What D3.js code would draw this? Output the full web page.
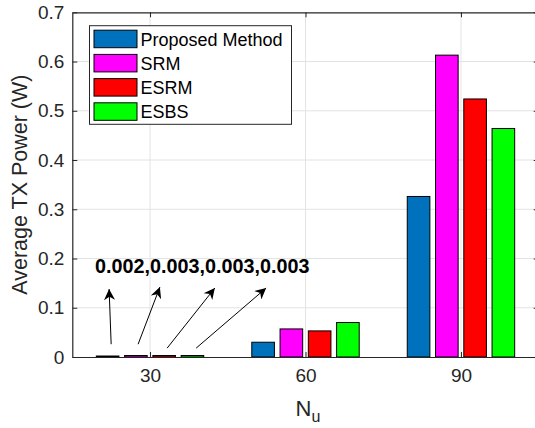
<!DOCTYPE html>
<html>
<head>
<meta charset="utf-8">
<script src="https://cdn.jsdelivr.net/npm/d3@7"></script>
<style>
  body { margin: 0; background: #fff; }
  svg { display: block; font-family: "Liberation Sans", Arial, sans-serif; }
</style>
</head>
<body>
<div id="chart"></div>
<script>
// data
var categories = [30, 60, 90];
var series = ["Proposed Method", "SRM", "ESRM", "ESBS"];
var colors = ["#0072BD", "#FF00FF", "#FF0000", "#00FF00"];
var proposed = [0.002, 0.030, 0.326];
var srm = [0.003, 0.057, 0.613];
var esrm = [0.003, 0.053, 0.524];
var esbs = [0.003, 0.070, 0.464];
var yTicks = [0, 0.1, 0.2, 0.3, 0.4, 0.5, 0.6, 0.7];
var noteText = "0.002,0.003,0.003,0.003";
// arrows in data units: [x tail, y tail, x head, y head]
var arrows = [
  [22.5, 0.026, 22.1, 0.138],
  [27.7, 0.026, 31.9, 0.142],
  [33.3, 0.018, 42.5, 0.140],
  [38.9, 0.018, 52.4, 0.140]
];

var width = 535, height = 428;
// plot box (right edge runs past the picture, as in the original)
var pLeft = 72.3, pTop = 12.3, pRight = 538.7, pBottom = 357;

var svg = d3.select("#chart").append("svg")
    .attr("width", width)
    .attr("height", height);

var x = d3.scaleLinear().domain([15, 105]).range([pLeft, pRight]);
var y = d3.scaleLinear().domain([0, 0.7]).range([pBottom, pTop]);

// grouped bar offsets, same proportions as matlab bar()
var groupW = (x(45) - x(15)) * 4 / 5.5;
var inner = d3.scaleBand().domain(series)
    .range([-groupW / 2, groupW / 2])
    .paddingInner(0.2).paddingOuter(0.1);

var axisColor = "#262626";
var gridColor = "#e3e3e3";

// grid
svg.append("g").selectAll("line")
    .data(yTicks.slice(1, -1))
  .enter().append("line")
    .attr("x1", pLeft).attr("x2", pRight)
    .attr("y1", function(d) { return y(d); })
    .attr("y2", function(d) { return y(d); })
    .attr("stroke", gridColor).attr("stroke-width", 1);
svg.append("g").selectAll("line")
    .data(categories)
  .enter().append("line")
    .attr("x1", function(d) { return x(d); })
    .attr("x2", function(d) { return x(d); })
    .attr("y1", pTop).attr("y2", pBottom)
    .attr("stroke", gridColor).attr("stroke-width", 1);

// bars
var table = [proposed, srm, esrm, esbs];
var rows = [];
series.forEach(function(s, i) {
  categories.forEach(function(c, j) {
    rows.push({ s: s, i: i, c: c, v: table[i][j] });
  });
});
svg.append("g").selectAll("rect")
    .data(rows)
  .enter().append("rect")
    .attr("x", function(d) { return x(d.c) + inner(d.s); })
    .attr("width", inner.bandwidth())
    .attr("y", function(d) { return y(d.v); })
    .attr("height", function(d) { return y(0) - y(d.v); })
    .attr("fill", function(d) { return colors[d.i]; })
    .attr("stroke", "#000").attr("stroke-width", 1);

// axes (box with inward ticks)
var yAxis = d3.axisLeft(y).tickValues(yTicks).tickSizeInner(-5).tickSizeOuter(0)
    .tickPadding(8).tickFormat(function(d) { return d === 0 ? "0" : d3.format(".1f")(d); });
var gy = svg.append("g").attr("transform", "translate(" + pLeft + ",0)").call(yAxis);
var gyr = svg.append("g").attr("transform", "translate(" + pRight + ",0)")
    .call(d3.axisRight(y).tickValues(yTicks).tickSizeInner(-5).tickSizeOuter(0).tickFormat(""));
var xAxis = d3.axisBottom(x).tickValues(categories).tickSizeInner(-5).tickSizeOuter(0).tickPadding(12);
var gx = svg.append("g").attr("transform", "translate(0," + pBottom + ")").call(xAxis);
var gxt = svg.append("g").attr("transform", "translate(0," + pTop + ")")
    .call(d3.axisTop(x).tickValues(categories).tickSizeInner(-5).tickSizeOuter(0).tickFormat(""));

[gy, gyr, gx, gxt].forEach(function(g) {
  g.selectAll("path.domain").attr("stroke", axisColor).attr("stroke-width", 1.2);
  g.selectAll("line").attr("stroke", axisColor);
  g.selectAll("text").attr("fill", axisColor).style("font-size", "19px");
});

// axis labels
svg.append("text")
    .attr("transform", "translate(27," + ((pTop + pBottom) / 2) + ")rotate(-90)")
    .attr("text-anchor", "middle")
    .attr("fill", axisColor)
    .style("font-size", "21.5px")
    .text("Average TX Power (W)");
var xl = svg.append("text")
    .attr("x", x(60) - 10).attr("y", 416)
    .attr("fill", axisColor)
    .style("font-size", "22px")
    .text("N");
xl.append("tspan").attr("dy", 6).style("font-size", "16px").text("u");

// annotation
svg.append("text")
    .attr("x", x(19.4)).attr("y", y(0.17))
    .style("font-size", "19.8px").style("font-weight", "bold")
    .attr("fill", "#000")
    .text(noteText);

svg.append("defs").append("marker")
    .attr("id", "head")
    .attr("viewBox", "0 0 10 10")
    .attr("refX", 10).attr("refY", 5)
    .attr("markerWidth", 14).attr("markerHeight", 11)
    .attr("markerUnits", "userSpaceOnUse")
    .attr("orient", "auto")
  .append("path").attr("d", "M0,0 L10,5 L0,10 L3,5 Z").attr("fill", "#000");

svg.append("g").selectAll("line")
    .data(arrows)
  .enter().append("line")
    .attr("x1", function(d) { return x(d[0]); })
    .attr("y1", function(d) { return y(d[1]); })
    .attr("x2", function(d) { return x(d[2]); })
    .attr("y2", function(d) { return y(d[3]); })
    .attr("stroke", "#000").attr("stroke-width", 1)
    .attr("marker-end", "url(#head)");

// legend
var lg = svg.append("g").attr("transform", "translate(89.5,25.7)");
lg.append("rect")
    .attr("width", 202).attr("height", 98.6)
    .attr("fill", "#fff").attr("stroke", axisColor).attr("stroke-width", 1);
var item = lg.selectAll("g.item")
    .data(series)
  .enter().append("g")
    .attr("transform", function(d, i) { return "translate(4.5," + (4.5 + i * 24.2) + ")"; });
item.append("rect")
    .attr("width", 43).attr("height", 17.5)
    .attr("fill", function(d, i) { return colors[i]; })
    .attr("stroke", "#000").attr("stroke-width", 1);
item.append("text")
    .attr("x", 46.5).attr("y", 15.5)
    .attr("fill", "#000")
    .style("font-size", "18px")
    .text(function(d) { return d; });
</script>
</body>
</html>
